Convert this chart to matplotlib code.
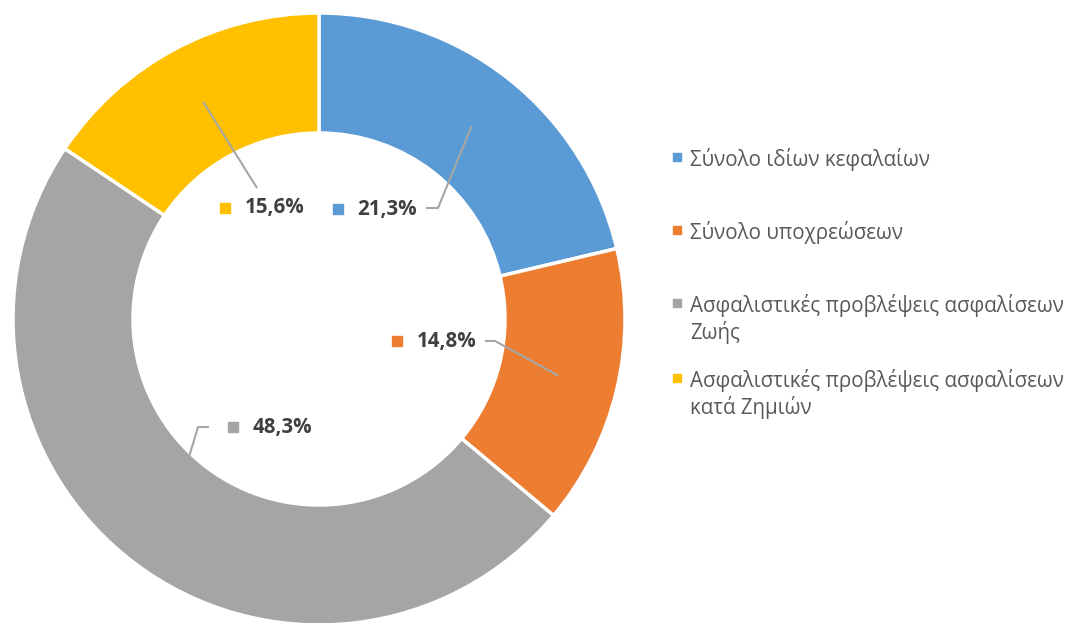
import numpy as np
import matplotlib
matplotlib.use("Agg")
import matplotlib.pyplot as plt

# data
categories = [["Σύνολο ιδίων κεφαλαίων"],
              ["Σύνολο υποχρεώσεων"],
              ["Ασφαλιστικές προβλέψεις ασφαλίσεων", "Ζωής"],
              ["Ασφαλιστικές προβλέψεις ασφαλίσεων", "κατά Ζημιών"]]
values = [21.3, 14.8, 48.3, 15.6]
labels = ["21,3%", "14,8%", "48,3%", "15,6%"]
colors = ["#5B9BD5", "#ED7D31", "#A5A5A5", "#FFC000"]

W, H = 1080, 623
plt.rcParams['font.family'] = ['Open Sans', 'DejaVu Sans']

fig = plt.figure(figsize=(W / 100, H / 100), dpi=100)
ax = fig.add_axes([0, 0, 1, 1])

cx, cy = 319, 319   # pixel coords of centre (y from top)
R, r_in = 306, 186

ax.pie(values, colors=colors, startangle=90, counterclock=False,
       radius=R, center=(cx, H - cy),
       wedgeprops=dict(width=R - r_in, edgecolor='white', linewidth=2.5))
ax.set_xlim(0, W)
ax.set_ylim(0, H)
ax.set_aspect('auto')
ax.axis('off')

# point in the middle of each wedge (clockwise from top)
cum = np.cumsum([0] + values)
mids = (cum[:-1] + np.array(values) / 2) / cum[-1] * 360
rm = (R + r_in) / 2
anchors = [(cx + rm * np.sin(np.radians(a)), cy - rm * np.cos(np.radians(a))) for a in mids]
# grey leader stops at the inner edge of the ring
anchors[2] = (189, 457)

# label layout: marker x, text x, y, leader path (pixel, from label side)
lab_pos = [(338, 357, 209, [(426, 208), (438, 208)]),
           (397, 417, 341, [(485, 341), (495, 341)]),
           (233, 253, 427, [(209, 427), (198, 427)]),
           (225, 245, 208, [(257, 188)])]

lc = "#A6A6A6"
for i, (mx, tx, ty, path) in enumerate(lab_pos):
    pts = path + [anchors[i]]
    xs = [p[0] for p in pts]
    ys = [H - p[1] for p in pts]
    ax.plot(xs, ys, color=lc, lw=1.5, solid_capstyle='butt')
    ax.scatter([mx], [H - ty], marker='s', s=42, color=colors[i], zorder=5)
    ax.text(tx, H - ty, labels[i], fontsize=14.8, fontweight='bold',
            color='#404040', va='center', ha='left')

# legend
leg_y = [157, 230, 303, 378]
for i, lines in enumerate(categories):
    ax.scatter([677], [H - leg_y[i]], marker='s', s=33, color=colors[i])
    for j, line in enumerate(lines):
        ax.text(690, H - leg_y[i] - 27 * j, line, fontsize=14.8, color='#595959',
                va='center_baseline', ha='left')

fig.savefig("out.png", dpi=100)
